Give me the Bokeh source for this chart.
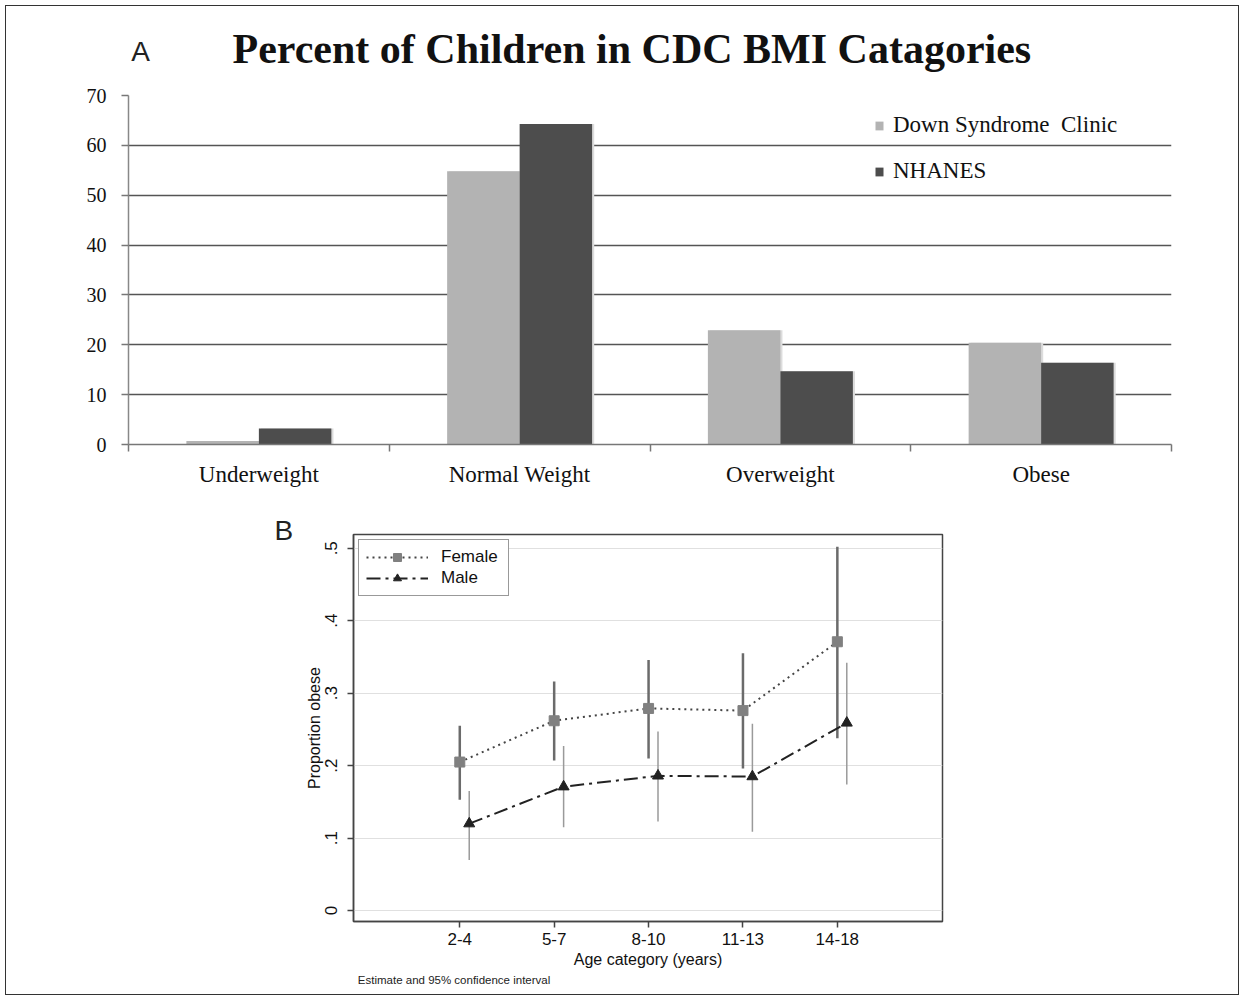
from bokeh.plotting import figure
from bokeh.models import Range1d, FixedTicker, Legend, LegendItem, Label, ColumnDataSource
from bokeh.layouts import column
from bokeh.transform import dodge
from bokeh.embed import file_html
from bokeh.resources import INLINE

# ---------------- Panel A data ----------------
bmi_categories = ["Underweight", "Normal Weight", "Overweight", "Obese"]
ds_clinic = [0.7, 54.8, 22.9, 20.4]
nhanes = [3.2, 64.3, 14.7, 16.4]
a_y_ticks = [0, 10, 20, 30, 40, 50, 60, 70]

# ---------------- Panel B data ----------------
age_categories = ["2-4", "5-7", "8-10", "11-13", "14-18"]
female_est = [0.205, 0.262, 0.279, 0.276, 0.371]
female_lo = [0.153, 0.207, 0.210, 0.196, 0.238]
female_hi = [0.255, 0.316, 0.346, 0.355, 0.502]
male_est = [0.120, 0.171, 0.186, 0.185, 0.259]
male_lo = [0.070, 0.115, 0.123, 0.109, 0.174]
male_hi = [0.165, 0.227, 0.247, 0.258, 0.342]
b_y_ticks = [0, 0.1, 0.2, 0.3, 0.4, 0.5]
b_y_labels = ["0", ".1", ".2", ".3", ".4", ".5"]

SERIF = "Liberation Serif"
SANS = "Liberation Sans"
W = 1244
HA = 508
HB = 492

# ================= Panel A =================
pa = figure(width=W, height=HA, x_range=Range1d(0, 4), y_range=Range1d(0, 70),
            output_backend="svg", toolbar_location=None,
            min_border_left=128, min_border_right=73, min_border_top=94, min_border_bottom=64)
pa.frame_align = False
pa.outline_line_color = None
pa.background_fill_color = None
pa.border_fill_color = None

pa.title.text = "Percent of Children in CDC BMI Catagories"
pa.title.align = "left"
pa.title.offset = 104
pa.title.standoff = 47
pa.title.text_font = SERIF
pa.title.text_font_style = "bold"
pa.title.text_font_size = "42px"
pa.title.text_color = "#111111"

centers = [i + 0.5 for i in range(len(bmi_categories))]
srcA = ColumnDataSource(dict(x=centers, ds=ds_clinic, nh=nhanes))
bw = 0.278
# faint shadows
pa.vbar(x=dodge('x', -bw / 2 + 0.008, range=pa.x_range), top='ds', width=bw, bottom=0,
        fill_color="#dcdcdc", line_color=None, source=srcA)
pa.vbar(x=dodge('x', bw / 2 + 0.008, range=pa.x_range), top='nh', width=bw, bottom=0,
        fill_color="#dcdcdc", line_color=None, source=srcA)
r_ds = pa.vbar(x=dodge('x', -bw / 2, range=pa.x_range), top='ds', width=bw, bottom=0,
               fill_color="#b3b3b3", line_color=None, source=srcA)
r_nh = pa.vbar(x=dodge('x', bw / 2, range=pa.x_range), top='nh', width=bw, bottom=0,
               fill_color="#4d4d4d", line_color=None, source=srcA)

pa.xaxis.ticker = FixedTicker(ticks=centers, minor_ticks=list(range(len(bmi_categories) + 1)))
pa.xaxis.major_label_overrides = {c: lab for c, lab in zip(centers, bmi_categories)}
pa.xaxis.major_tick_line_color = None
pa.xaxis.major_tick_out = 0
pa.xaxis.minor_tick_out = 7
pa.xaxis.minor_tick_in = 0
pa.xaxis.minor_tick_line_color = "#777777"
pa.xaxis.minor_tick_line_width = 1.5
pa.xaxis.axis_line_color = "#777777"
pa.xaxis.axis_line_width = 1.5
pa.xaxis.major_label_standoff = 10
pa.xaxis.major_label_text_font = SERIF
pa.xaxis.major_label_text_font_size = "23px"
pa.xaxis.major_label_text_color = "#111111"

pa.yaxis.ticker = FixedTicker(ticks=a_y_ticks)
pa.yaxis.minor_tick_line_color = None
pa.yaxis.major_tick_out = 7
pa.yaxis.major_tick_in = 0
pa.yaxis.major_tick_line_color = "#777777"
pa.yaxis.major_tick_line_width = 1.5
pa.yaxis.axis_line_color = "#888888"
pa.yaxis.axis_line_width = 1.5
pa.yaxis.major_label_standoff = 15
pa.yaxis.major_label_text_font = SERIF
pa.yaxis.major_label_text_font_size = "20px"
pa.yaxis.major_label_text_color = "#111111"

pa.xgrid.grid_line_color = None
pa.ygrid.ticker = FixedTicker(ticks=a_y_ticks)
pa.ygrid.grid_line_color = "#555555"
pa.ygrid.grid_line_width = 1.5

legA = Legend(items=[LegendItem(label="Down Syndrome  Clinic", renderers=[r_ds]),
                     LegendItem(label="NHANES", renderers=[r_nh])],
              location=(746, 260), glyph_width=10, glyph_height=11, label_standoff=9,
              label_height=25, spacing=20, padding=0, margin=0,
              border_line_color=None, background_fill_alpha=0,
              label_text_font=SERIF, label_text_font_size="23px", label_text_color="#111111")
pa.add_layout(legA)

# panel letter placed in a side panel so that it is not clipped to the frame
pa.add_layout(Label(x=0.046, y=78.86, text="A",
                    text_font=SANS, text_font_size="28px",
                    text_align="center", text_baseline="middle", text_color="#222222"), "left")

# ================= Panel B =================
pb = figure(width=W, height=HB, x_range=Range1d(-0.126, 6.114), y_range=Range1d(-0.015, 0.519),
            output_backend="svg", toolbar_location=None,
            min_border_left=353, min_border_right=302, min_border_top=26, min_border_bottom=79)
pb.frame_align = False
pb.outline_line_color = "#444444"
pb.outline_line_width = 1.5
pb.border_fill_color = None

xs = list(range(1, len(age_categories) + 1))
srcF = ColumnDataSource(dict(x=xs, est=female_est, lo=female_lo, hi=female_hi))
srcM = ColumnDataSource(dict(x=xs, est=male_est, lo=male_lo, hi=male_hi))
mx = dodge('x', 0.1, range=pb.x_range)

pb.segment(x0='x', y0='lo', x1='x', y1='hi', line_color="#6b6b6b", line_width=2.5, source=srcF)
pb.segment(x0=mx, y0='lo', x1=mx, y1='hi', line_color="#9a9a9a", line_width=1.5, source=srcM)
lf = pb.line(x='x', y='est', line_dash="2 4", line_color="#444444", line_width=2, source=srcF)
sf = pb.scatter(x='x', y='est', marker="square", size=10, fill_color="#808080",
                line_color="#808080", source=srcF)
lm = pb.line(x=mx, y='est', line_dash="14 5 3 5", line_color="#222222", line_width=2, source=srcM)
sm = pb.scatter(x=mx, y='est', marker="triangle", size=11, fill_color="#222222",
                line_color="#222222", source=srcM)

pb.xaxis.ticker = FixedTicker(ticks=xs)
pb.xaxis.major_label_overrides = {x: lab for x, lab in zip(xs, age_categories)}
pb.xaxis.axis_label = "Age category (years)"
pb.yaxis.ticker = FixedTicker(ticks=b_y_ticks)
pb.yaxis.major_label_overrides = {t: lab for t, lab in zip(b_y_ticks, b_y_labels)}
pb.yaxis.axis_label = "Proportion obese"
pb.yaxis.major_label_orientation = "vertical"
for ax in (pb.xaxis, pb.yaxis):
    ax.minor_tick_line_color = None
    ax.major_tick_out = 6
    ax.major_tick_in = 0
    ax.major_tick_line_color = "#444444"
    ax.major_tick_line_width = 1.5
    ax.axis_line_color = "#444444"
    ax.axis_line_width = 1.5
    ax.major_label_standoff = 5
    ax.major_label_text_font = SANS
    ax.major_label_text_font_size = "17px"
    ax.major_label_text_color = "#111111"
    ax.axis_label_standoff = 3
    ax.axis_label_text_font = SANS
    ax.axis_label_text_font_size = "16px"
    ax.axis_label_text_font_style = "normal"
    ax.axis_label_text_color = "#111111"
pb.yaxis.major_label_standoff = 10
pb.yaxis.axis_label_standoff = 0

pb.xgrid.grid_line_color = None
pb.ygrid.ticker = FixedTicker(ticks=b_y_ticks)
pb.ygrid.grid_line_color = "#e0e0e0"
pb.ygrid.grid_line_width = 1

legB = Legend(items=[LegendItem(label="Female", renderers=[lf, sf]),
                     LegendItem(label="Male", renderers=[lm, sm])],
              location=(5, 325), glyph_width=62, glyph_height=20, label_height=20,
              label_width=60, label_standoff=13, spacing=1, padding=7, margin=0,
              border_line_color="#333333", border_line_width=1.5,
              background_fill_color="white", background_fill_alpha=1,
              label_text_font=SANS, label_text_font_size="17px", label_text_color="#111111")
pb.add_layout(legB)

pb.add_layout(Label(x=-0.863, y=0.5245, text="B",
                    text_font=SANS, text_font_size="28px",
                    text_align="center", text_baseline="middle", text_color="#222222"), "left")
pb.add_layout(Label(x=-0.08, y=-0.0964,
                    text="Estimate and 95% confidence interval",
                    text_font=SANS, text_font_size="11.5px", text_align="left",
                    text_baseline="middle", text_color="#222222"), "below")

layout = column(pa, pb, styles={"outline": "1.5px solid #333333", "outline-offset": "-6px"})

open("out.html", "w").write(file_html(layout, INLINE))
